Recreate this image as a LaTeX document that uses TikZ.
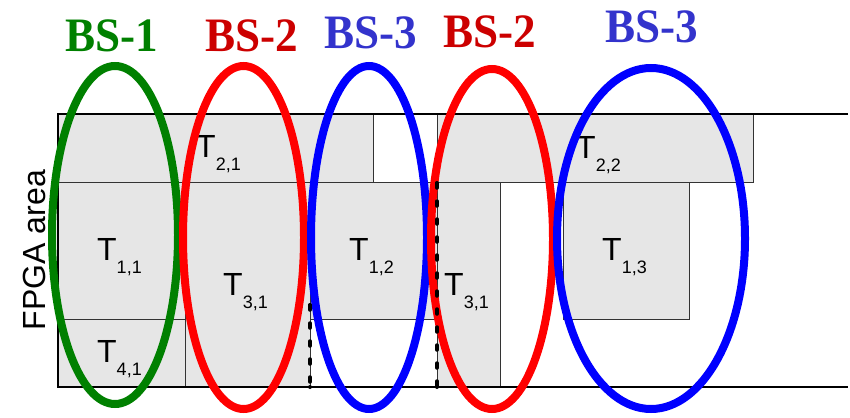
\documentclass[tikz,border=0pt]{standalone}
\usepackage{fontspec}
\setmainfont{Liberation Sans}
\newfontfamily\bsfont[FakeStretch=0.94]{Liberation Serif}
\usetikzlibrary{shapes.geometric}
\definecolor{bsgreen}{HTML}{008000}
\definecolor{bsred}{HTML}{FF0000}
\definecolor{bsblue}{HTML}{0000FF}
\definecolor{bsredtext}{HTML}{CC0000}
\definecolor{bsbluetext}{HTML}{3333CC}
\definecolor{taskgray}{HTML}{E6E6E6}
\newcommand{\tlab}[1]{{\fontsize{32}{32}\selectfont T}\raisebox{-13pt}{\fontsize{18}{18}\selectfont #1}}
\begin{document}
\begin{tikzpicture}[x=1pt,y=-1pt,
  task/.style={fill=taskgray, draw=black!80, line width=0.8pt},
  frame/.style={line width=2.2pt, black},
  tname/.style={anchor=base west, inner sep=0pt},
  bslab/.style={anchor=base, inner sep=0pt, font=\bsfont\bfseries\fontsize{48}{48}\selectfont},
  bsring/.style={ellipse, line width=8pt, inner sep=0pt},
  split/.style={line width=3.5pt, black, dash pattern=on 5pt off 13pt, line cap=round}]
\useasboundingbox (0,0) rectangle (850,417);
\filldraw[task] (58,114) rectangle (373,182);
\filldraw[task] (58,182) rectangle (185,319);
\filldraw[task] (58,319) rectangle (185,387);
\filldraw[task] (185,182) rectangle (310,387);
\filldraw[task] (310,182) rectangle (437,319);
\filldraw[task] (437,182) rectangle (500,387);
\filldraw[task] (437,114) rectangle (753,182);
\filldraw[task] (563,182) rectangle (689,319);
\draw[frame] (848,114) -- (58,114) -- (58,387) -- (848,387);
\node[tname] (t21) at (196,157) {\tlab{2,1}};
\node[tname] (t11) at (97,260) {\tlab{1,1}};
\node[tname] (t41) at (97,362) {\tlab{4,1}};
\node[tname] (t31) at (223,295) {\tlab{3,1}};
\node[tname] (t12) at (349,260) {\tlab{1,2}};
\node[tname] (t31b) at (444,295) {\tlab{3,1}};
\node[tname] (t22) at (576,158) {\tlab{2,2}};
\node[tname] (t13) at (602,260) {\tlab{1,3}};
\node[rotate=90, inner sep=0pt, font=\fontsize{32}{32}\selectfont] (area) at (34,250) {FPGA area};
\coordinate (cut1a) at (310,305);
\coordinate (cut1b) at (310,387);
\coordinate (cut2a) at (437,183);
\coordinate (cut2b) at (437,387);
\node[bsring, draw=bsgreen, minimum width=126pt, minimum height=338pt] (bs1) at (115,235) {};
\node[bsring, draw=bsred, minimum width=121pt, minimum height=343pt] (bs2) at (243.5,237.5) {};
\node[bsring, draw=bsblue, minimum width=116pt, minimum height=343pt] (bs3) at (369,237.5) {};
\node[bsring, draw=bsred, minimum width=122pt, minimum height=340pt] (bs4) at (492,239) {};
\node[bsring, draw=bsblue, minimum width=188pt, minimum height=341pt] (bs5) at (651,238.5) {};
\draw[split] (cut1a) -- (cut1b);
\draw[split] (cut2a) -- (cut2b);
\fill (cut1a) circle (2pt) (cut1b) circle (2pt) (cut2a) circle (2pt) (cut2b) circle (2pt);
\node[bslab, text=bsgreen] (lab1) at (112,52) {BS-1};
\node[bslab, text=bsredtext] (lab2) at (252,52) {BS-2};
\node[bslab, text=bsbluetext] (lab3) at (371,49) {BS-3};
\node[bslab, text=bsredtext] (lab4) at (490,48) {BS-2};
\node[bslab, text=bsbluetext] (lab5) at (652,43) {BS-3};
\end{tikzpicture}
\end{document}
